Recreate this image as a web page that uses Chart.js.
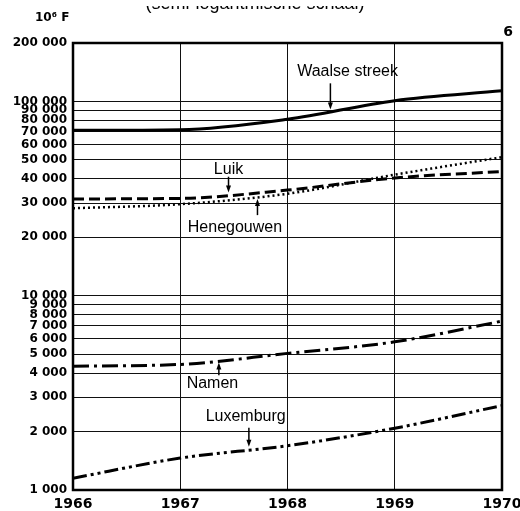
<!DOCTYPE html>
<html>
<head>
<meta charset="utf-8">
<script src="https://cdn.jsdelivr.net/npm/chart.js@4/dist/chart.umd.min.js"></script>
<style>
  html, body { margin: 0; padding: 0; background: #fff; }
  canvas { display: block; }
</style>
</head>
<body>
<canvas id="grafiek" width="520" height="511"></canvas>
<script>
var jaren = [1966, 1967, 1968, 1969, 1970];

var waalseStreek = [71000, 71500, 81000, 101000, 113500];
var luik = [31500, 31700, 35000, 40400, 43600];
var henegouwen = [28200, 29600, 33500, 42000, 51700];
var namen = [4340, 4430, 5050, 5790, 7400];
var luxemburg = [1150, 1460, 1690, 2080, 2720];

var yTicks = [1000, 2000, 3000, 4000, 5000, 6000, 7000, 8000, 9000, 10000,
              20000, 30000, 40000, 50000, 60000, 70000, 80000, 90000, 100000, 200000];

var titel = "(semi-logaritmische schaal)";
var eenheid = "10\u2076 F";
var paginaNr = "6";

// label text, label position (year, value), arrow from (year, value) to (year, value)
var labels = [
    {text: "Waalse streek", x: 1968.56, y: 142000, ax: 1968.40, ay1: 124000, ay2: 91000},
    {text: "Luik", x: 1967.45, y: 44500, ax: 1967.45, ay1: 41000, ay2: 34000},
    {text: "Henegouwen", x: 1967.51, y: 22300, ax: 1967.72, ay1: 26000, ay2: 31500},
    {text: "Namen", x: 1967.30, y: 3510, ax: 1967.36, ay1: 3900, ay2: 4530},
    {text: "Luxemburg", x: 1967.61, y: 2400, ax: 1967.64, ay1: 2090, ay2: 1670}
];

function punten(waarden) {
    var data = [];
    for (var i = 0; i < jaren.length; i++) {
        data.push({x: jaren[i], y: waarden[i]});
    }
    return data;
}

function spaties(v) {
    return String(v).replace(/\B(?=(\d{3})+(?!\d))/g, " ");
}

function lijn(naam, waarden, dash, breedte) {
    return {
        label: naam,
        data: punten(waarden),
        borderColor: '#000',
        borderWidth: breedte,
        borderDash: dash,
        pointRadius: 0,
        fill: false,
        cubicInterpolationMode: 'monotone'
    };
}

var extraTekst = {
    id: 'extraTekst',
    afterDraw: function (chart) {
        var ctx = chart.ctx;
        var xs = chart.scales.x;
        var ys = chart.scales.y;
        var ca = chart.chartArea;

        ctx.save();
        // frame
        ctx.strokeStyle = '#000';
        ctx.lineWidth = 2.5;
        ctx.strokeRect(ca.left, ca.top, ca.right - ca.left, ca.bottom - ca.top);

        ctx.fillStyle = '#000';
        // title is cut off at the top of the page, only its lower edge shows
        ctx.save();
        ctx.beginPath();
        ctx.rect(0, 6, 520, 10);
        ctx.clip();
        ctx.font = '18px "Liberation Sans", Arial, sans-serif';
        ctx.textAlign = 'center';
        ctx.textBaseline = 'alphabetic';
        ctx.fillText(titel, 255, 9);
        ctx.restore();

        ctx.font = 'bold 12px "DejaVu Sans", sans-serif';
        ctx.textAlign = 'left';
        ctx.textBaseline = 'middle';
        ctx.fillText(eenheid, 35, 18);

        ctx.font = 'bold 14px "DejaVu Sans", sans-serif';
        ctx.textAlign = 'center';
        ctx.fillText(paginaNr, 508, 32);

        ctx.font = '16px "Liberation Sans", Arial, sans-serif';
        for (var i = 0; i < labels.length; i++) {
            var l = labels[i];
            ctx.fillText(l.text, xs.getPixelForValue(l.x), ys.getPixelForValue(l.y));

            var ax = xs.getPixelForValue(l.ax);
            var y1 = ys.getPixelForValue(l.ay1);
            var y2 = ys.getPixelForValue(l.ay2);
            var richting = y2 > y1 ? 1 : -1;
            ctx.lineWidth = 1.5;
            ctx.beginPath();
            ctx.moveTo(ax, y1);
            ctx.lineTo(ax, y2 - richting * 5);
            ctx.stroke();
            ctx.beginPath();
            ctx.moveTo(ax, y2);
            ctx.lineTo(ax - 2.5, y2 - richting * 7);
            ctx.lineTo(ax + 2.5, y2 - richting * 7);
            ctx.closePath();
            ctx.fill();
        }
        ctx.restore();
    }
};

function makeChart() {
    var canvas = document.getElementById("grafiek");

    var data = {
        datasets: [
            lijn("Waalse streek", waalseStreek, [], 3),
            lijn("Luik", luik, [11, 5], 3),
            lijn("Henegouwen", henegouwen, [2, 3], 2.5),
            lijn("Namen", namen, [16, 5, 3, 5], 3),
            lijn("Luxemburg", luxemburg, [14, 4, 3, 4, 3, 4], 3)
        ]
    };

    var options = {
        responsive: false,
        animation: false,
        devicePixelRatio: 1,
        layout: {padding: {left: 0, right: 18, top: 43, bottom: 0}},
        plugins: {
            legend: {display: false},
            tooltip: {enabled: false}
        },
        scales: {
            x: {
                type: 'linear',
                min: jaren[0],
                max: jaren[jaren.length - 1],
                afterBuildTicks: function (s) {
                    s.ticks = jaren.map(function (j) { return {value: j}; });
                },
                afterFit: function (s) {
                    s.height = 21;
                    s.paddingLeft = 0;
                    s.paddingRight = 0;
                },
                ticks: {
                    callback: function (v) { return String(v); },
                    color: '#000',
                    font: {family: '"DejaVu Sans", sans-serif', size: 14, weight: 'bold'},
                    padding: 6,
                    maxRotation: 0
                },
                grid: {color: '#111', lineWidth: 1, drawTicks: false},
                border: {color: '#000', width: 2}
            },
            y: {
                type: 'logarithmic',
                min: 1000,
                max: 200000,
                afterBuildTicks: function (s) {
                    s.ticks = yTicks.map(function (v) { return {value: v}; });
                },
                afterFit: function (s) {
                    s.width = 73;
                    s.paddingTop = 0;
                    s.paddingBottom = 0;
                },
                ticks: {
                    autoSkip: false,
                    callback: function (v) { return spaties(v); },
                    color: '#000',
                    font: {family: '"DejaVu Sans", sans-serif', size: 12, weight: 'bold'},
                    padding: 6
                },
                grid: {color: '#111', lineWidth: 1, drawTicks: false},
                border: {color: '#000', width: 2}
            }
        }
    };

    new Chart(canvas, {
        type: 'line',
        data: data,
        options: options,
        plugins: [extraTekst]
    });
}

document.addEventListener('DOMContentLoaded', makeChart);
</script>
</body>
</html>
